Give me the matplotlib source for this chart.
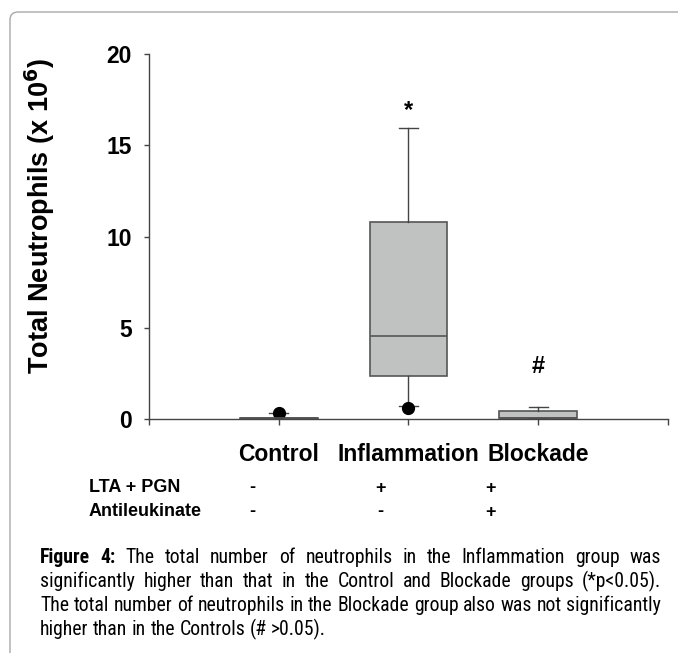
import matplotlib
matplotlib.use("Agg")
import matplotlib.pyplot as plt
from matplotlib import font_manager
from matplotlib.patches import FancyBboxPatch

# ---- data ----
categories = ["Control", "Inflammation", "Blockade"]
q1 = [0.0, 2.36, 0.07]
med = [0.03, 4.55, 0.07]
q3 = [0.07, 10.8, 0.44]
whislo = [0.0, 0.73, 0.07]
whishi = [0.33, 15.95, 0.64]
fliers = [[0.33], [0.62], []]
annotations = ["", "*", "#"]
annot_y = [0, 16.9, 2.9]
yticks = [0, 5, 10, 15, 20]
row_labels = ["LTA + PGN", "Antileukinate"]
row_lta = ["-", "+", "+"]
row_anti = ["-", "-", "+"]
caption_lines = [
    "Figure 4: The total number of neutrophils in the Inflammation group was",
    "significantly higher than that in the Control and Blockade groups (*p<0.05).",
    "The total number of neutrophils in the Blockade group also was not significantly",
    "higher than in the Controls (# >0.05).",
]

W, H = 678, 653
fig = plt.figure(figsize=(W / 100, H / 100), dpi=100)
fig.patch.set_facecolor("white")

def fx(px):
    return px / W

def fy(py):
    return 1 - py / H

border = FancyBboxPatch((fx(10), fy(700)), fx(740), fy(12) - fy(700),
                        boxstyle="round,pad=0,rounding_size=0.012",
                        transform=fig.transFigure, facecolor="none",
                        edgecolor="#a8a8a8", linewidth=1.0, clip_on=False)
fig.patches.append(border)

ax = fig.add_axes([fx(149), fy(419), fx(668) - fx(149), fy(54) - fy(419)])
bold = "Liberation Sans"

stats = []
for i, c in enumerate(categories):
    stats.append(dict(label=c, q1=q1[i], med=med[i], q3=q3[i],
                      whislo=whislo[i], whishi=whishi[i], fliers=fliers[i]))

ax.bxp(stats, positions=[1, 2, 3], widths=0.6, capwidths=0.15,
       patch_artist=True, showfliers=True,
       boxprops=dict(facecolor="#c0c2c1", edgecolor="#555555", linewidth=1.2),
       medianprops=dict(color="#555555", linewidth=1.2),
       whiskerprops=dict(color="#444444", linewidth=1.0),
       capprops=dict(color="#444444", linewidth=1.0),
       flierprops=dict(marker="o", markerfacecolor="black",
                       markeredgecolor="black", markersize=8.5))

for i, a in enumerate(annotations):
    if a:
        ax.text(i + 1, annot_y[i], a, ha="center", va="center",
                fontsize=17, fontweight="bold", family=bold)

ax.set_xlim(0, 4)
ax.set_ylim(0, 20)
ax.set_xticks([0, 1, 2, 3, 4])
ax.set_xticklabels([""] + categories + [""], fontsize=16.5, fontweight="bold",
                   family=bold)
ax.set_yticks(yticks)
ax.set_yticklabels([str(v) for v in yticks], fontsize=16.5, fontweight="bold",
                   family=bold)
ax.tick_params(axis="y", direction="out", length=3.5, width=1, pad=9,
               color="#444444")
ax.tick_params(axis="x", direction="out", length=4, width=1, pad=13,
               color="#444444")
for s in ["top", "right"]:
    ax.spines[s].set_visible(False)
for s in ["left", "bottom"]:
    ax.spines[s].set_color("#444444")
    ax.spines[s].set_linewidth(1.0)
ax.set_ylabel("Total Neutrophils (x 10$^{\\mathbf{6}}$)", fontsize=19.5,
              fontweight="bold", family=bold)
ax.yaxis.set_label_coords(-0.178, 0.556)

fig.text(fx(89), fy(488), row_labels[0], fontsize=13, fontweight="bold",
         family=bold, va="center", ha="left")
fig.text(fx(89), fy(512), row_labels[1], fontsize=13, fontweight="bold",
         family=bold, va="center", ha="left")
sym_x = [252, 380, 490]
for i in range(3):
    fig.text(fx(sym_x[i]), fy(488), row_lta[i], fontsize=13, fontweight="bold",
             family=bold, va="center", ha="center")
    fig.text(fx(sym_x[i]), fy(512), row_anti[i], fontsize=13,
             fontweight="bold", family=bold, va="center", ha="center")

cap_font = "Liberation Sans"
names = {f.name for f in font_manager.fontManager.ttflist}
for cand in ["Liberation Sans Narrow", "Arial Narrow", "Roboto Condensed"]:
    if cand in names:
        cap_font = cand
        break

renderer = fig.canvas.get_renderer()

def width(txt, size, weight="normal"):
    t = fig.text(0, 0, txt, fontsize=size, fontweight=weight, family=cap_font)
    w = t.get_window_extent(renderer).width
    t.remove()
    return w

x0, x1 = 40, 661
ref = caption_lines[2]
size = 12 * (x1 - x0) / width(ref, 12)

line_base = [563, 587, 611, 635]
for li, line in enumerate(caption_lines):
    words = line.split(" ")
    weights = ["normal"] * len(words)
    if li == 0:
        weights[0] = "bold"
        weights[1] = "bold"
    widths = [width(w, size, wt) for w, wt in zip(words, weights)]
    if li < 3:
        gap = (x1 - x0 - sum(widths)) / (len(words) - 1)
    else:
        gap = width("a b", size) - width("ab", size)
    x = x0
    for w, wt, wd in zip(words, weights, widths):
        fig.text(fx(x), fy(line_base[li]), w, fontsize=size, fontweight=wt,
                 family=cap_font, va="baseline", ha="left")
        x += wd + gap

fig.savefig("out.png", dpi=100)
